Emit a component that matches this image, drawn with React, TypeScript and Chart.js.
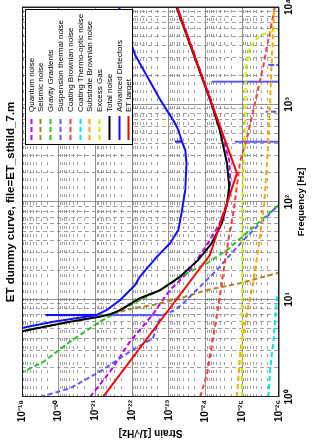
import React, { useEffect, useRef } from 'react';
import { Chart, registerables } from 'chart.js';

Chart.register(...registerables);

// ---------- text ----------
const titleText = 'ET dummy curve, file=ET_sthild_7.m';
const xLabel = 'Frequency [Hz]';
const yLabel = 'Strain [1/\u221AHz]';

// ---------- ticks ----------
const freqDecades = [0, 1, 2, 3, 4];
const freqTickLabels = ['10\u2070', '10\u00B9', '10\u00B2', '10\u00B3', '10\u2074'];
const strainDecades = [-26, -25, -24, -23, -22, -21, -20, -19];
const strainTickLabels = [
  '10\u207B\u00B2\u2076', '10\u207B\u00B2\u2075', '10\u207B\u00B2\u2074', '10\u207B\u00B2\u00B3',
  '10\u207B\u00B2\u00B2', '10\u207B\u00B2\u00B9', '10\u207B\u00B2\u2070', '10\u207B\u00B9\u2079',
];
const minorMantissas = [2, 3, 4, 5, 6, 7, 8, 9];

// ---------- series ----------
const seriesNames = [
  'Quantum noise', 'Seismic noise', 'Gravity Gradients', 'Suspension thermal noise',
  'Coating Brownian noise', 'Coating Thermo-optic noise', 'Substrate Brownian noise',
  'Excess Gas', 'Total noise', 'Advanced Detectors', 'ET target',
];

const quantumF = [1, 1.82, 3.69, 6.93, 9.15, 12.5, 20.1, 40.7, 60.5, 105, 168, 270, 433, 1000, 10000];
const quantumH = [1.4e-21, 4.0e-22, 1.15e-22, 2.8e-23, 1.7e-23, 9.3e-24, 2.6e-24, 7.6e-25, 4.1e-25, 2.45e-25, 2.1e-25, 2.3e-25, 3.2e-25, 6.5e-25, 5.9e-24];

const seismicF = [4.7, 5.9, 6.7, 7.05, 7.5, 8.1, 8.8, 10.3, 12.5, 14.7, 18.6, 22];
const seismicH = [1.26e-19, 5.0e-21, 7.9e-22, 4.0e-22, 2.1e-22, 9.3e-23, 2.6e-23, 5.0e-24, 9.3e-25, 1.15e-25, 1.15e-26, 2.0e-27];

const gravityF = [1.75, 2.3, 3.69, 5.92, 9.9, 12.5, 18.6, 23.5, 32.2, 51.6, 89.5, 110];
const gravityH = [1.12e-19, 2.6e-20, 4.9e-21, 7.6e-22, 6.2e-23, 1.7e-23, 3.2e-24, 9.3e-25, 2.6e-25, 6.2e-26, 1.15e-26, 6.3e-27];

const suspensionF = [1, 1.23, 1.82, 2.92, 4.0, 5.5, 6.45, 6.9, 6.93, 6.96, 7.8, 9.1, 20, 40.7, 89.5, 110,
  414, 415, 416, 843, 844, 845, 1713, 1714, 1715, 2539, 2540, 2541];
const suspensionH = [3.2e-20, 4.9e-21, 7.6e-22, 1.15e-22, 2.7e-23, 2.1e-23, 1.7e-23, 1.6e-23, 4.0e-22, 1.4e-23, 6.8e-24, 4.1e-24, 5.0e-25, 9.3e-26, 1.15e-26, 6.3e-27,
  1e-28, 1.6e-25, 1e-28, 1e-28, 2.3e-26, 1e-28, 1e-28, 6.9e-25, 1e-28, 1e-28, 2.1e-26, 1e-28];

const coatingBrF = [1, 1.68, 8.44, 18.6, 40.7, 82.8, 259, 507, 878, 2440, 10000];
const coatingBrH = [1.41e-24, 9.3e-25, 4.5e-25, 3.3e-25, 2.4e-25, 1.7e-25, 1.15e-25, 6.9e-26, 5.0e-26, 2.7e-26, 1.3e-26];

const coatingToF = [1, 1.9, 4, 10, 14, 30];
const coatingToH = [1.95e-26, 1.74e-26, 1.4e-26, 1.15e-26, 9.3e-27, 5e-27];

const substrateF = [1, 3, 8, 15, 30, 100, 430, 2400, 10000];
const substrateH = [1.4e-25, 1.12e-25, 7.1e-26, 5.0e-26, 3.8e-26, 2.5e-26, 1.95e-26, 1.6e-26, 1.35e-26];

const gasF = [1, 100, 433, 1000, 2440, 3920, 4240, 5160, 5800, 6500];
const gasH = [1.02e-25, 1.0e-25, 8.7e-26, 8.3e-26, 7.8e-26, 6.2e-26, 5.0e-26, 3.3e-26, 1.15e-26, 3.2e-27];

const totalF = [4.68, 5.92, 6.66, 7.05, 7.8, 10.3, 12.5, 17.1, 25.4, 37.7, 60.5, 97, 143.6, 249, 433, 547, 1000, 10000];
const totalH = [1.12e-19, 4.9e-21, 7.6e-22, 4.0e-22, 2.1e-22, 6.2e-23, 1.7e-23, 5.0e-24, 1.6e-24, 6.8e-25, 3.6e-25, 2.6e-25, 2.25e-25, 2.6e-25, 3.6e-25, 4.1e-25, 6.8e-25, 6.2e-24];

const advancedF = [5.07, 5.92, 6.9, 6.93, 6.96, 7.8, 9.9, 14.1, 17.1, 27.5, 37.7, 51.6, 76.6, 133, 249, 341, 413, 415, 417, 547, 641, 1112, 3220, 10000];
const advancedH = [1.12e-19, 1.4e-20, 9.5e-22, 2.3e-20, 9.1e-22, 4.9e-22, 2.1e-22, 8.3e-23, 6.2e-23, 2.1e-23, 9.3e-24, 5.5e-24, 4.5e-24, 3.6e-24, 3.3e-24, 3.6e-24, 4.4e-24, 6.8e-24, 4.4e-24, 5.5e-24, 6.8e-24, 1.7e-23, 8.3e-23, 2.3e-22];

const etTargetF = [1, 28.6, 197, 10000];
const etTargetH = [6.2e-22, 7.6e-25, 1.4e-25, 6.0e-24];

const seriesF = [quantumF, seismicF, gravityF, suspensionF, coatingBrF, coatingToF, substrateF, gasF, totalF, advancedF, etTargetF];
const seriesH = [quantumH, seismicH, gravityH, suspensionH, coatingBrH, coatingToH, substrateH, gasH, totalH, advancedH, etTargetH];
const seriesColors = ['#c000ff', '#b5801a', '#1ec81e', '#5a5aff', '#ff3c3c', '#00e5e5', '#ffa500', '#c8f000', '#000000', '#1010ff', '#ff0000'];
const seriesDashed = [true, true, true, true, true, true, true, true, false, false, false];

// ---------- helpers ----------
const FONT = "'Liberation Sans', Arial, Helvetica, sans-serif";
const DASH = [5, 3];
const GRID_MAJOR = 'rgba(110,110,110,0.75)';
const GRID_MINOR = 'rgba(120,120,120,0.7)';

function buildTicks(decades: number[]) {
  const t: { value: number; major: boolean }[] = [];
  for (let i = 0; i < decades.length; i++) {
    const base = Math.pow(10, decades[i]);
    t.push({ value: base, major: true });
    if (i < decades.length - 1) {
      for (const m of minorMantissas) t.push({ value: m * base, major: false });
    }
  }
  return t;
}

function labelFor(v: number, decades: number[], labels: string[]) {
  const e = Math.log10(v);
  for (let i = 0; i < decades.length; i++) {
    if (Math.abs(e - decades[i]) < 1e-6) return labels[i];
  }
  return '';
}

const gridColor = (c: any) => (c.tick && c.tick.major ? GRID_MAJOR : GRID_MINOR);

const framePlugin = {
  id: 'frameTitleLegend',
  afterDatasetsDraw(chart: any) {
    const { ctx, chartArea: ca } = chart;
    ctx.save();
    // axes box
    ctx.strokeStyle = '#222';
    ctx.lineWidth = 1;
    ctx.setLineDash([]);
    ctx.strokeRect(ca.left + 0.5, ca.top + 0.5, ca.right - ca.left - 1, ca.bottom - ca.top - 1);

    // legend box (inside, top-right)
    const bx = ca.right - 138;
    const by = ca.top + 3;
    const bw = 136;
    const bh = 108;
    ctx.fillStyle = '#fff';
    ctx.fillRect(bx, by, bw, bh);
    ctx.strokeStyle = '#000';
    ctx.strokeRect(bx + 0.5, by + 0.5, bw - 1, bh - 1);
    ctx.font = `8px ${FONT}`;
    ctx.textBaseline = 'middle';
    ctx.textAlign = 'left';
    chart.data.datasets.forEach((ds: any, i: number) => {
      const y = Math.round(by + 5.7 + 9.76 * i) + 0.5;
      ctx.strokeStyle = ds.borderColor;
      ctx.lineWidth = 2;
      ctx.setLineDash(ds.borderDash || []);
      ctx.beginPath();
      ctx.moveTo(bx + 5, y);
      ctx.lineTo(bx + 29, y);
      ctx.stroke();
      ctx.setLineDash([]);
      ctx.fillStyle = '#000';
      ctx.fillText(ds.label, bx + 33, y);
    });

    // title
    ctx.font = `bold 11.5px ${FONT}`;
    ctx.textAlign = 'center';
    ctx.textBaseline = 'middle';
    ctx.fillStyle = '#000';
    ctx.fillText(titleText, (ca.left + ca.right) / 2, 10.5);
    ctx.restore();
  },
};

export default function App() {
  const ref = useRef<HTMLCanvasElement>(null);

  useEffect(() => {
    if (!ref.current) return;
    const datasets = seriesNames.map((name, i) => ({
      label: name,
      data: seriesF[i].map((f, j) => ({ x: f, y: seriesH[i][j] })),
      borderColor: seriesColors[i],
      backgroundColor: seriesColors[i],
      borderWidth: 2,
      borderDash: seriesDashed[i] ? DASH : [],
      showLine: true,
      pointRadius: 0,
      fill: false,
      tension: 0,
      order: seriesNames.length - i,
    }));

    const chart = new Chart(ref.current, {
      type: 'scatter',
      data: { datasets },
      options: {
        responsive: false,
        animation: false,
        devicePixelRatio: 1,
        events: [],
        layout: { padding: { top: 22, right: 7, bottom: 0, left: 0 } },
        plugins: { legend: { display: false }, tooltip: { enabled: false }, title: { display: false } },
        scales: {
          x: {
            type: 'logarithmic',
            position: 'bottom',
            min: 1,
            max: 10000,
            afterBuildTicks: (s: any) => { s.ticks = buildTicks(freqDecades); },
            afterFit: (s: any) => { s.height = 34; s.paddingLeft = 0; s.paddingRight = 0; },
            ticks: {
              autoSkip: false, maxRotation: 0, minRotation: 0, padding: 4, color: '#000',
              font: { family: FONT, size: 10, weight: 'bold' },
              callback: (v: any) => labelFor(Number(v), freqDecades, freqTickLabels),
            },
            grid: { drawTicks: false, color: gridColor, lineWidth: 1 },
            border: { display: false, dash: (c: any) => (c.tick && c.tick.major ? [] : [4, 3]) },
            title: { display: true, text: xLabel, color: '#000', font: { family: FONT, size: 9.5, weight: 'bold' }, padding: { top: 0, bottom: 6 } },
          },
          y: {
            type: 'logarithmic',
            position: 'left',
            min: 1e-26,
            max: 1e-19,
            afterBuildTicks: (s: any) => { s.ticks = buildTicks(strainDecades); },
            afterFit: (s: any) => { s.width = 46; s.paddingTop = 0; s.paddingBottom = 0; },
            ticks: {
              autoSkip: false, padding: 3, color: '#000',
              font: { family: FONT, size: 10, weight: 'bold' },
              callback: (v: any) => labelFor(Number(v), strainDecades, strainTickLabels),
            },
            grid: { drawTicks: false, color: gridColor, lineWidth: 1 },
            border: { display: false, dash: (c: any) => (c.tick && c.tick.major ? [] : [3, 5]) },
            title: { display: true, text: yLabel, color: '#000', font: { family: FONT, size: 10, weight: 'bold' }, padding: { top: 4, bottom: 0 } },
          },
        },
      },
      plugins: [framePlugin],
    } as any);
    return () => chart.destroy();
  }, []);

  return (
    <div
      style={{
        position: 'absolute', left: 0, top: 0, width: 443, height: 313,
        transform: 'translate(0px, 443px) rotate(-90deg)', transformOrigin: '0 0', background: '#fff',
      }}
    >
      <canvas ref={ref} width={443} height={313} style={{ display: 'block', width: 443, height: 313 }} />
    </div>
  );
}
